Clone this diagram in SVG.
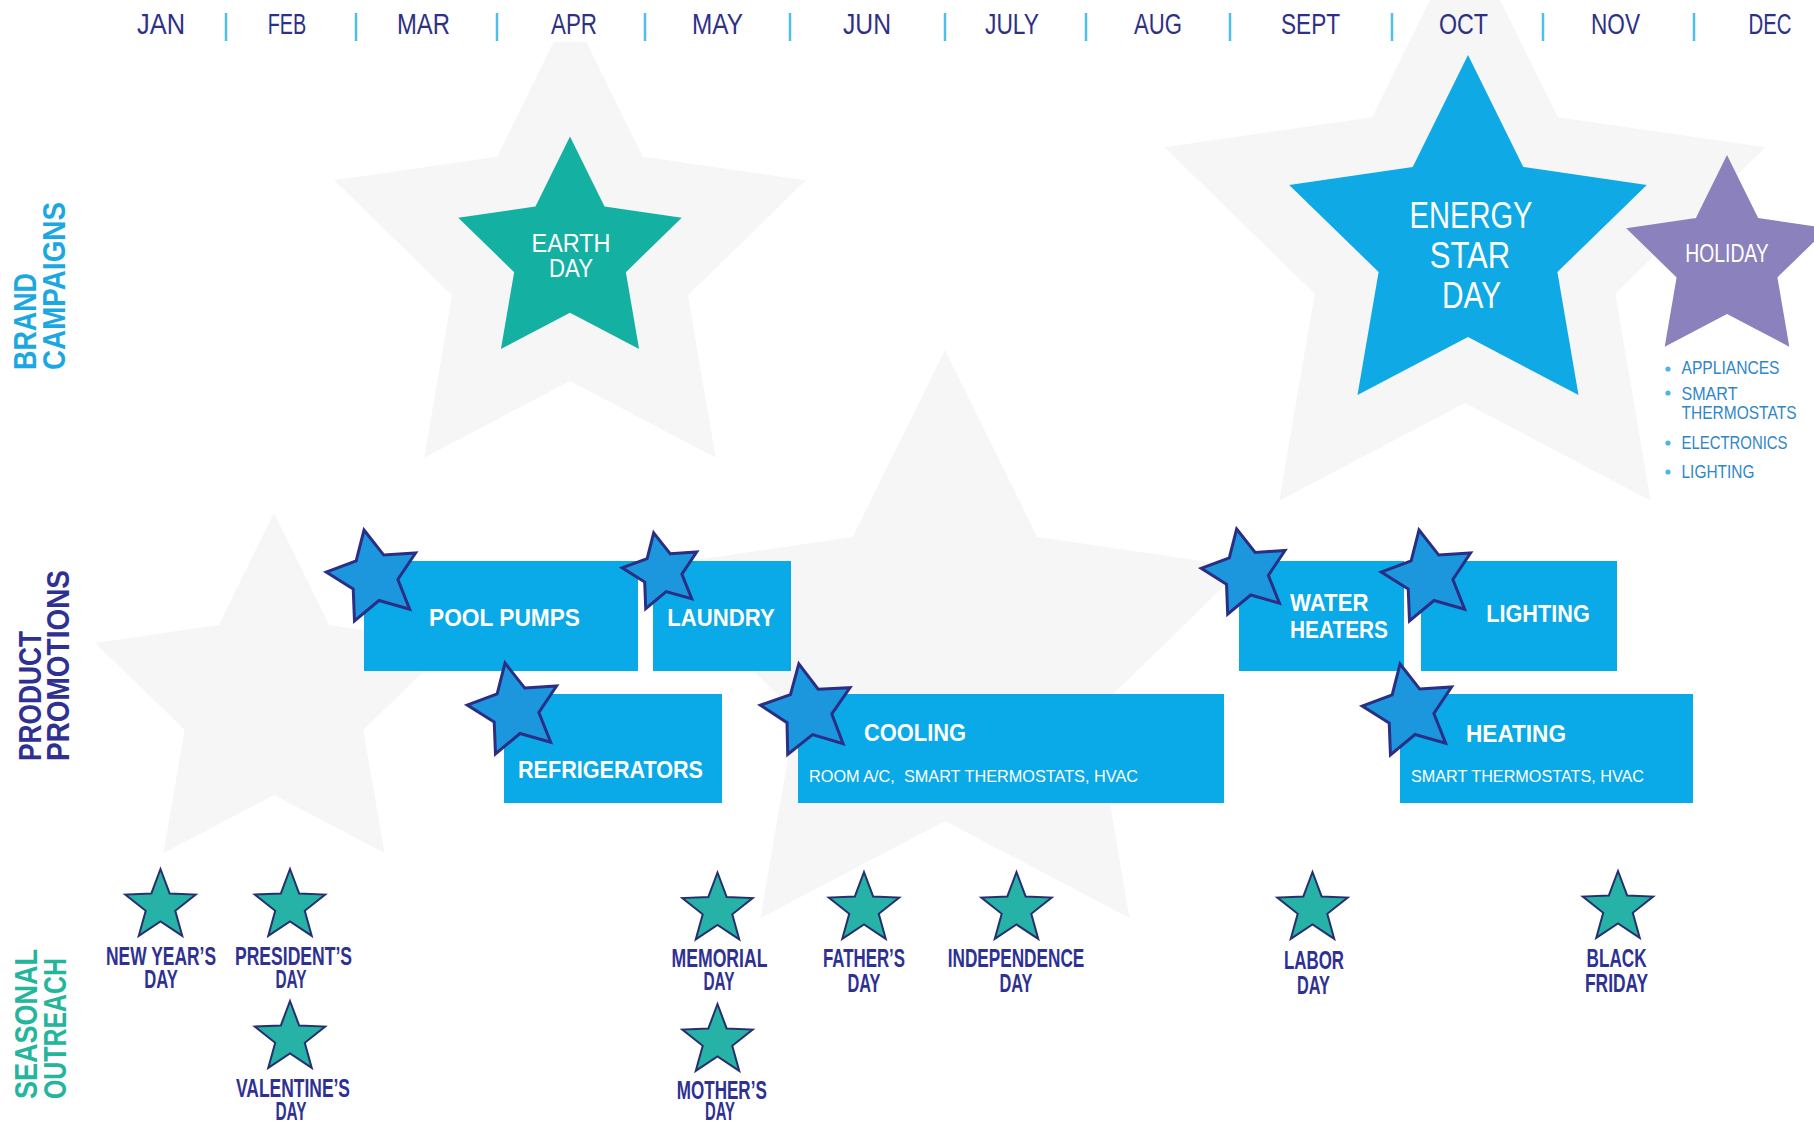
<svg xmlns="http://www.w3.org/2000/svg" width="1814" height="1124" viewBox="0 0 1814 1124">
<style>
text{font-family:"Liberation Sans",Arial,sans-serif}
.mon{font-size:29px;fill:#2e3086;text-anchor:middle}
.dv{stroke:#4dbfe9;stroke-width:2.5}
.row{font-size:32px;font-weight:bold}
.gs{fill:#f6f6f6}
.box{fill:#0aa9e7}
.bt{font-size:24px;font-weight:bold;fill:#fff}
.sub{font-size:17px;fill:#fff;white-space:pre}
.ps{fill:#1c96dd;stroke:#2b2e85;stroke-width:3}
.ss{fill:#26b2a6;stroke:#27306e;stroke-width:2}
.sl{font-size:25px;font-weight:bold;fill:#2e3192;text-anchor:middle}
.wt{fill:#fff;text-anchor:middle}
.li{font-size:17.5px;fill:#2f86c8}
</style>
<defs>
<path id="star" vector-effect="non-scaling-stroke" d="M0,-100 L29.39,-40.45 L95.11,-30.9 L47.55,15.45 L58.78,80.9 L0,50 L-58.78,80.9 L-47.55,15.45 L-95.11,-30.9 L-29.39,-40.45Z"/>
<path id="sstar" vector-effect="non-scaling-stroke" d="M0,-100 L24.69,-33.98 L95.11,-30.9 L39.95,12.98 L58.78,80.9 L0,42 L-58.78,80.9 L-39.95,12.98 L-95.11,-30.9 L-24.69,-33.98Z"/>
<clipPath id="clipTop"><rect x="0" y="42" width="1814" height="1082"/></clipPath>
</defs>
<rect width="1814" height="1124" fill="#fff"/>

<g id="background-stars">
<g clip-path="url(#clipTop)"><use href="#star" class="gs" transform="translate(570,257) scale(2.48)"/></g>
<use href="#star" class="gs" transform="translate(1465,245) scale(3.16)"/>
<use href="#star" class="gs" transform="translate(945,664) scale(3.14)"/>
<use href="#star" class="gs" transform="translate(274,701) scale(1.88)"/>
</g>

<g id="months">
<text class="mon" x="161" y="34" textLength="48" lengthAdjust="spacingAndGlyphs">JAN</text>
<text class="mon" x="287" y="34" textLength="38.5" lengthAdjust="spacingAndGlyphs">FEB</text>
<text class="mon" x="423.5" y="34" textLength="53" lengthAdjust="spacingAndGlyphs">MAR</text>
<text class="mon" x="574" y="34" textLength="46" lengthAdjust="spacingAndGlyphs">APR</text>
<text class="mon" x="717.5" y="34" textLength="51" lengthAdjust="spacingAndGlyphs">MAY</text>
<text class="mon" x="867" y="34" textLength="48" lengthAdjust="spacingAndGlyphs">JUN</text>
<text class="mon" x="1012" y="34" textLength="54" lengthAdjust="spacingAndGlyphs">JULY</text>
<text class="mon" x="1158" y="34" textLength="48" lengthAdjust="spacingAndGlyphs">AUG</text>
<text class="mon" x="1310.5" y="34" textLength="59" lengthAdjust="spacingAndGlyphs">SEPT</text>
<text class="mon" x="1463.5" y="34" textLength="49" lengthAdjust="spacingAndGlyphs">OCT</text>
<text class="mon" x="1615.5" y="34" textLength="49" lengthAdjust="spacingAndGlyphs">NOV</text>
<text class="mon" x="1770" y="34" textLength="43" lengthAdjust="spacingAndGlyphs">DEC</text>
<line class="dv" x1="226" y1="13" x2="226" y2="41"/>
<line class="dv" x1="356" y1="13" x2="356" y2="41"/>
<line class="dv" x1="497" y1="13" x2="497" y2="41"/>
<line class="dv" x1="645" y1="13" x2="645" y2="41"/>
<line class="dv" x1="790" y1="13" x2="790" y2="41"/>
<line class="dv" x1="945" y1="13" x2="945" y2="41"/>
<line class="dv" x1="1086" y1="13" x2="1086" y2="41"/>
<line class="dv" x1="1230" y1="13" x2="1230" y2="41"/>
<line class="dv" x1="1392" y1="13" x2="1392" y2="41"/>
<line class="dv" x1="1543" y1="13" x2="1543" y2="41"/>
<line class="dv" x1="1694" y1="13" x2="1694" y2="41"/>
</g>

<g id="row-labels">
<text class="row" fill="#1ba8e2" transform="translate(36,370) rotate(-90)" textLength="97" lengthAdjust="spacingAndGlyphs">BRAND</text>
<text class="row" fill="#1ba8e2" transform="translate(65,370) rotate(-90)" textLength="168" lengthAdjust="spacingAndGlyphs">CAMPAIGNS</text>
<text class="row" fill="#2e3192" transform="translate(41,761) rotate(-90)" textLength="130" lengthAdjust="spacingAndGlyphs">PRODUCT</text>
<text class="row" fill="#2e3192" transform="translate(69,761) rotate(-90)" textLength="191" lengthAdjust="spacingAndGlyphs">PROMOTIONS</text>
<text class="row" fill="#24b59d" transform="translate(37,1099) rotate(-90)" textLength="150" lengthAdjust="spacingAndGlyphs">SEASONAL</text>
<text class="row" fill="#24b59d" transform="translate(66,1099) rotate(-90)" textLength="141" lengthAdjust="spacingAndGlyphs">OUTREACH</text>
</g>

<g id="earth-day">
<use href="#star" fill="#14b1a2" transform="translate(570,254) scale(1.175)"/>
<text class="wt" x="571" y="252" font-size="25.5" textLength="79" lengthAdjust="spacingAndGlyphs">EARTH</text>
<text class="wt" x="571" y="277" font-size="25.5" textLength="44" lengthAdjust="spacingAndGlyphs">DAY</text>
</g>

<g id="energy-star-day">
<use href="#star" fill="#0fa9e6" transform="translate(1468,243) scale(1.88)"/>
<text class="wt" x="1471" y="228" font-size="36" textLength="123" lengthAdjust="spacingAndGlyphs">ENERGY</text>
<text class="wt" x="1470" y="268" font-size="36" textLength="80.5" lengthAdjust="spacingAndGlyphs">STAR</text>
<text class="wt" x="1471.5" y="308" font-size="36" textLength="59" lengthAdjust="spacingAndGlyphs">DAY</text>
</g>

<g id="holiday">
<use href="#star" fill="#8a81bd" transform="translate(1727,261) scale(1.06)"/>
<text class="wt" x="1727" y="262" font-size="25.7" textLength="83.5" lengthAdjust="spacingAndGlyphs">HOLIDAY</text>
<g id="holiday-list">
<circle cx="1668" cy="369" r="2.6" fill="#4fb3e6"/>
<circle cx="1668" cy="393" r="2.6" fill="#4fb3e6"/>
<circle cx="1668" cy="443" r="2.6" fill="#4fb3e6"/>
<circle cx="1668" cy="472" r="2.6" fill="#4fb3e6"/>
<text class="li" x="1681.5" y="374" textLength="98" lengthAdjust="spacingAndGlyphs">APPLIANCES</text>
<text class="li" x="1681.5" y="400" textLength="56" lengthAdjust="spacingAndGlyphs">SMART</text>
<text class="li" x="1681.5" y="419" textLength="115" lengthAdjust="spacingAndGlyphs">THERMOSTATS</text>
<text class="li" x="1681.5" y="449" textLength="106" lengthAdjust="spacingAndGlyphs">ELECTRONICS</text>
<text class="li" x="1681.5" y="478" textLength="73" lengthAdjust="spacingAndGlyphs">LIGHTING</text>
</g>
</g>

<g id="pool-pumps">
<rect class="box" x="364" y="561" width="274" height="110"/>
<use href="#star" class="ps" transform="translate(374,577) rotate(-12) scale(0.48)"/>
<text class="bt" x="504.5" y="626" text-anchor="middle" textLength="151" lengthAdjust="spacingAndGlyphs">POOL PUMPS</text>
</g>
<g id="laundry">
<rect class="box" x="653" y="561" width="138" height="110"/>
<use href="#star" class="ps" transform="translate(662,572) rotate(-12) scale(0.40)"/>
<text class="bt" x="721" y="626" text-anchor="middle" textLength="107.5" lengthAdjust="spacingAndGlyphs">LAUNDRY</text>
</g>
<g id="refrigerators">
<rect class="box" x="504" y="694" width="218" height="109"/>
<use href="#star" class="ps" transform="translate(515,710) rotate(-12) scale(0.48)"/>
<text class="bt" x="610.5" y="778" text-anchor="middle" textLength="185" lengthAdjust="spacingAndGlyphs">REFRIGERATORS</text>
</g>
<g id="cooling">
<rect class="box" x="798" y="694" width="426" height="109"/>
<use href="#star" class="ps" transform="translate(808,711) rotate(-11) scale(0.48)"/>
<text class="bt" x="864" y="741" textLength="102" lengthAdjust="spacingAndGlyphs">COOLING</text>
<text class="sub" x="809" y="782" textLength="329" lengthAdjust="spacingAndGlyphs">ROOM A/C,  SMART THERMOSTATS, HVAC</text>
</g>
<g id="water-heaters">
<rect class="box" x="1239" y="561" width="165" height="110"/>
<use href="#star" class="ps" transform="translate(1246,573) rotate(-12) scale(0.45)"/>
<text class="bt" x="1290" y="611" textLength="78.5" lengthAdjust="spacingAndGlyphs">WATER</text>
<text class="bt" x="1290" y="638" textLength="98" lengthAdjust="spacingAndGlyphs">HEATERS</text>
</g>
<g id="lighting">
<rect class="box" x="1421" y="561" width="196" height="110"/>
<use href="#star" class="ps" transform="translate(1429,577) rotate(-12) scale(0.48)"/>
<text class="bt" x="1538" y="622" text-anchor="middle" textLength="103.5" lengthAdjust="spacingAndGlyphs">LIGHTING</text>
</g>
<g id="heating">
<rect class="box" x="1400" y="694" width="293" height="109"/>
<use href="#star" class="ps" transform="translate(1410,711) rotate(-12) scale(0.48)"/>
<text class="bt" x="1466" y="742" textLength="100" lengthAdjust="spacingAndGlyphs">HEATING</text>
<text class="sub" x="1411" y="782" textLength="233" lengthAdjust="spacingAndGlyphs">SMART THERMOSTATS, HVAC</text>
</g>

<g id="new-years-day">
<use href="#sstar" class="ss" transform="translate(160.5,906) scale(0.37)"/>
<text class="sl" x="161" y="965" textLength="110" lengthAdjust="spacingAndGlyphs">NEW YEAR’S</text>
<text class="sl" x="161" y="988" textLength="33.5" lengthAdjust="spacingAndGlyphs">DAY</text>
</g>
<g id="presidents-day">
<use href="#sstar" class="ss" transform="translate(290,906) scale(0.37)"/>
<text class="sl" x="293.5" y="965" textLength="117" lengthAdjust="spacingAndGlyphs">PRESIDENT’S</text>
<text class="sl" x="291" y="988" textLength="31" lengthAdjust="spacingAndGlyphs">DAY</text>
</g>
<g id="valentines-day">
<use href="#sstar" class="ss" transform="translate(290,1038) scale(0.37)"/>
<text class="sl" x="293" y="1097" textLength="114" lengthAdjust="spacingAndGlyphs">VALENTINE’S</text>
<text class="sl" x="291" y="1120" textLength="31" lengthAdjust="spacingAndGlyphs">DAY</text>
</g>
<g id="memorial-day">
<use href="#sstar" class="ss" transform="translate(717.5,909.5) scale(0.37)"/>
<text class="sl" x="719.5" y="967" textLength="96" lengthAdjust="spacingAndGlyphs">MEMORIAL</text>
<text class="sl" x="719" y="990" textLength="31" lengthAdjust="spacingAndGlyphs">DAY</text>
</g>
<g id="mothers-day">
<use href="#sstar" class="ss" transform="translate(717.5,1041) scale(0.37)"/>
<text class="sl" x="721.8" y="1099" textLength="90" lengthAdjust="spacingAndGlyphs">MOTHER’S</text>
<text class="sl" x="720" y="1120" textLength="30" lengthAdjust="spacingAndGlyphs">DAY</text>
</g>
<g id="fathers-day">
<use href="#sstar" class="ss" transform="translate(864,909) scale(0.37)"/>
<text class="sl" x="864" y="967" textLength="82" lengthAdjust="spacingAndGlyphs">FATHER’S</text>
<text class="sl" x="864" y="992" textLength="33" lengthAdjust="spacingAndGlyphs">DAY</text>
</g>
<g id="independence-day">
<use href="#sstar" class="ss" transform="translate(1016.5,909) scale(0.37)"/>
<text class="sl" x="1016" y="967" textLength="136.6" lengthAdjust="spacingAndGlyphs">INDEPENDENCE</text>
<text class="sl" x="1016" y="992" textLength="33" lengthAdjust="spacingAndGlyphs">DAY</text>
</g>
<g id="labor-day">
<use href="#sstar" class="ss" transform="translate(1312.5,909) scale(0.37)"/>
<text class="sl" x="1314" y="969" textLength="60" lengthAdjust="spacingAndGlyphs">LABOR</text>
<text class="sl" x="1313.5" y="994" textLength="33" lengthAdjust="spacingAndGlyphs">DAY</text>
</g>
<g id="black-friday">
<use href="#sstar" class="ss" transform="translate(1618,908) scale(0.37)"/>
<text class="sl" x="1616.6" y="967" textLength="60" lengthAdjust="spacingAndGlyphs">BLACK</text>
<text class="sl" x="1616.5" y="992" textLength="63" lengthAdjust="spacingAndGlyphs">FRIDAY</text>
</g>
</svg>
